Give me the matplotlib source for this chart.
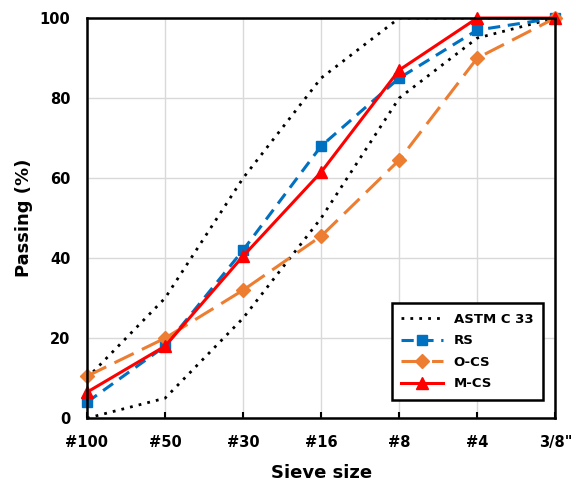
import matplotlib.pyplot as plt

# sieve sizes and passing (%)
sieves = ['#100', '#50', '#30', '#16', '#8', '#4', '3/8"']
astm_upper = [10, 30, 60, 85, 100, 100, 100]
astm_lower = [0, 5, 25, 50, 80, 95, 100]
rs = [4, 18, 42, 68, 85, 97, 100]
ocs = [10.5, 20, 32, 45.5, 64.5, 90, 100]
mcs = [6.5, 18, 40.5, 61.5, 87, 100, 100]

x = list(range(len(sieves)))

fig = plt.figure(figsize=(5.76, 4.88), dpi=100)
ax = fig.add_axes([0.151, 0.143, 0.813, 0.82])

ax.plot(x, astm_upper, color='black', linestyle=(0, (1, 2.2)), linewidth=2, label='ASTM C 33')
ax.plot(x, astm_lower, color='black', linestyle=(0, (1, 2.2)), linewidth=2)
ax.plot(x, rs, color='#0070C0', linestyle=(0, (4, 2.5)), linewidth=2.2,
        marker='s', markersize=7, label='RS', clip_on=False)
ax.plot(x, ocs, color='#ED7D31', linestyle=(0, (7, 3)), linewidth=2.2,
        marker='D', markersize=7.5, label='O-CS', clip_on=False)
ax.plot(x, mcs, color='#FF0000', linewidth=2.2,
        marker='^', markersize=9, label='M-CS', clip_on=False)

ax.set_xlim(0, 6)
ax.set_ylim(0, 100)
ax.set_xticks(x)
ax.set_xticklabels(sieves)
ax.set_yticks(range(0, 101, 20))
ax.grid(True, color='#d9d9d9', linewidth=1)
ax.set_axisbelow(True)
for s in ax.spines.values():
    s.set_linewidth(1.8)
    s.set_color('black')
ax.tick_params(axis='x', direction='in', length=4, width=1.5, labelsize=10.5, pad=12)
ax.tick_params(axis='y', length=0, labelsize=10.5, pad=12)
for lbl in ax.get_xticklabels() + ax.get_yticklabels():
    lbl.set_fontweight('bold')

ax.set_xlabel('Sieve size', fontsize=13, fontweight='bold', labelpad=10)
ax.set_ylabel('Passing (%)', fontsize=13, fontweight='bold', labelpad=5)

leg = ax.legend(loc='lower right', bbox_to_anchor=(0.987, 0.03), fancybox=False,
                edgecolor='black', framealpha=1, prop={'weight': 'bold', 'size': 9.5},
                handlelength=3.2, borderpad=0.7, labelspacing=0.65)
leg.get_frame().set_linewidth(1.8)

fig.savefig('out.png', dpi=100)
